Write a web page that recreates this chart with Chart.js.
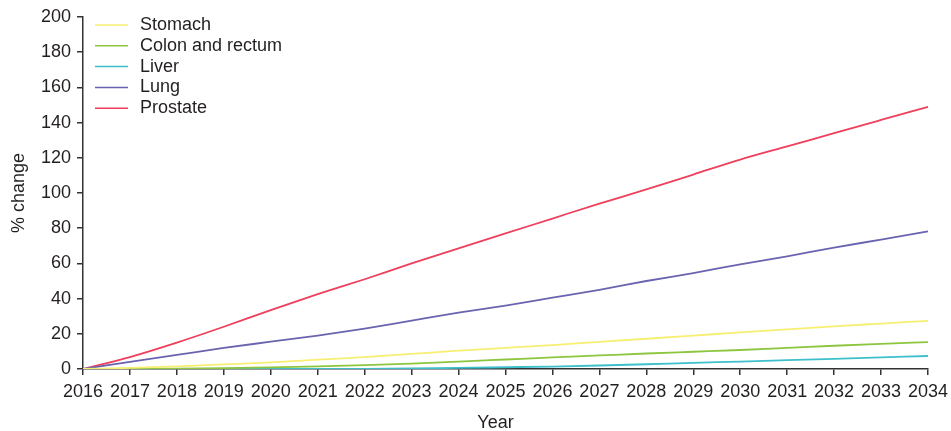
<!DOCTYPE html>
<html>
<head>
<meta charset="utf-8">
<script src="https://cdn.jsdelivr.net/npm/chart.js@4.4.1/dist/chart.umd.min.js"></script>
<style>
  html, body { margin: 0; padding: 0; background: #fff; }
  #wrap { width: 951px; height: 431px; position: relative; }
</style>
</head>
<body>
<div id="wrap"><canvas id="c" width="951" height="431"></canvas></div>
<script>
const years = ["2016","2017","2018","2019","2020","2021","2022","2023","2024","2025","2026","2027","2028","2029","2030","2031","2032","2033","2034"];
const stomach  = [0, 0.6, 1.5, 2.6, 3.8, 5.3, 6.8, 8.6, 10.4, 12.0, 13.6, 15.4, 17.2, 19.0, 20.8, 22.5, 24.2, 25.8, 27.4];
const colon    = [0, 0, 0.2, 0.5, 0.9, 1.5, 2.2, 3.1, 4.2, 5.4, 6.6, 7.7, 8.8, 9.8, 10.8, 12.0, 13.2, 14.3, 15.3];
const liver    = [0, 0, 0, 0, 0, 0, 0.1, 0.3, 0.6, 1.0, 1.4, 2.0, 2.7, 3.5, 4.2, 5.0, 5.8, 6.6, 7.4];
const lung     = [0, 4, 8, 12, 15.5, 19, 23, 27.5, 32, 36, 40.5, 45, 50, 54.5, 59.5, 64, 69, 73.5, 78.2];
const prostate = [0, 6.8, 15, 24, 33.5, 42.5, 51, 60, 68.5, 77, 85.5, 94, 102, 110.5, 119, 126.5, 134, 141.5, 149];
const seriesNames = ["Stomach", "Colon and rectum", "Liver", "Lung", "Prostate"];
const yTicks = [0, 20, 40, 60, 80, 100, 120, 140, 160, 180, 200];
const xTitle = "Year";

const colors = ["#f6ef72", "#8cc63f", "#3dbfcc", "#6a63b0", "#ee3f5c"];
const FONT = "'Liberation Sans', Arial, Helvetica, sans-serif";
const TXT = "#231f20";

const legendPlugin = {
  id: 'inlineLegend',
  afterDatasetsDraw(chart) {
    const ctx = chart.ctx;
    ctx.save();
    ctx.font = "18px " + FONT;
    ctx.textBaseline = "middle";
    ctx.fillStyle = TXT;
    const x0 = 95, x1 = 128, tx = 140, y0 = 25, dy = 20.8;
    chart.data.datasets.forEach((ds, i) => {
      const y = y0 + i * dy;
      ctx.strokeStyle = ds.borderColor;
      ctx.lineWidth = 1.5;
      ctx.beginPath(); ctx.moveTo(x0, y); ctx.lineTo(x1, y); ctx.stroke();
      ctx.fillText(ds.label, tx, y);
    });
    // x-axis title
    const ca = chart.chartArea;
    ctx.textAlign = "center";
    ctx.textBaseline = "alphabetic";
    ctx.fillText(xTitle, (ca.left + ca.right) / 2 - 10, 428);
    ctx.restore();
  }
};

const dataArrays = [stomach, colon, liver, lung, prostate];
new Chart(document.getElementById('c'), {
  type: 'line',
  data: {
    labels: years,
    datasets: seriesNames.map((n, i) => ({
      label: n, data: dataArrays[i], borderColor: colors[i], backgroundColor: colors[i],
      borderWidth: 1.8, pointRadius: 0, cubicInterpolationMode: 'monotone', fill: false
    }))
  },
  options: {
    responsive: false, animation: false,
    layout: { padding: { left: 0, right: 23, top: 17, bottom: 0 } },
    plugins: { legend: { display: false }, tooltip: { enabled: false } },
    scales: {
      x: {
        type: 'category', offset: false,
        grid: { display: true, drawOnChartArea: false, drawTicks: true, tickLength: 6, color: '#333', lineWidth: 1.5 },
        border: { display: true, color: '#333', width: 1.5 },
        ticks: { font: { size: 18, family: FONT }, color: TXT, padding: 6, maxRotation: 0, autoSkip: false },
        title: { display: false },
        afterFit(s) { s.height = 62; s.paddingLeft = 0; s.paddingRight = 0; }
      },
      y: {
        min: 0, max: 200,
        afterBuildTicks(s) { s.ticks = yTicks.map(v => ({ value: v })); },
        grid: { display: true, drawOnChartArea: false, drawTicks: true, tickLength: 6, color: '#333', lineWidth: 1.5 },
        border: { display: true, color: '#333', width: 1.5 },
        ticks: { font: { size: 18, family: FONT }, color: TXT, padding: 6 },
        title: { display: true, text: '% change', font: { size: 18, family: FONT }, color: TXT, padding: { top: 8, bottom: 0 } },
        afterFit(s) { s.width = 83; s.paddingTop = 0; s.paddingBottom = 0; }
      }
    }
  },
  plugins: [legendPlugin]
});
</script>
</body>
</html>
